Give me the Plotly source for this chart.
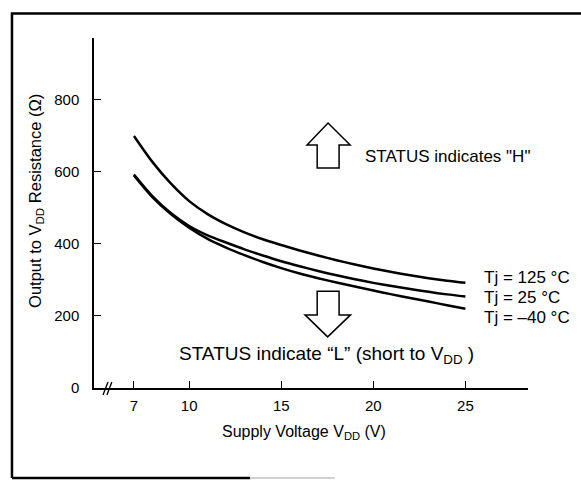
import plotly.graph_objects as go

# ---- data ----
vdd = [7, 8, 9, 10, 11, 12, 13, 14, 15, 16, 17, 18, 19, 20, 21, 22, 23, 24, 25]
r_125 = [700, 628, 568, 519, 483, 455, 432, 413, 397, 382, 368, 355, 343, 332, 322, 313, 305, 298, 292]
r_25 = [593, 533, 486, 450, 424, 404, 385, 368, 352, 338, 325, 313, 302, 292, 283, 275, 267, 260, 254]
r_m40 = [590, 530, 483, 445, 414, 390, 369, 350, 333, 318, 305, 293, 282, 271, 260, 250, 240, 230, 220]
series_labels = ["Tj = 125 °C", "Tj = 25 °C", "Tj = –40 °C"]
x_ticks = [7, 10, 15, 20, 25]
y_ticks = [0, 200, 400, 600, 800]

FONT = "Liberation Sans, Arial, Helvetica, sans-serif"

fig = go.Figure()
for r in (r_125, r_25, r_m40):
    fig.add_trace(go.Scatter(x=vdd, y=r, mode="lines",
                             line=dict(color="black", width=2.5, shape="spline", smoothing=0.8),
                             showlegend=False, hoverinfo="skip"))

# curve labels at the right end of each curve
label_y = [308, 250, 197]
for lab, yy in zip(series_labels, label_y):
    fig.add_annotation(x=25.9, y=yy, text=lab, showarrow=False, xanchor="left", yanchor="middle",
                       font=dict(family=FONT, size=17, color="black"))

# status texts
fig.add_annotation(x=19.45, y=642, text="STATUS indicates \"H\"", showarrow=False,
                   xanchor="left", yanchor="middle", font=dict(family=FONT, size=17, color="black"))
fig.add_annotation(x=9.34, y=92, text="STATUS indicate “L” (short to V<sub>DD</sub> )", showarrow=False,
                   xanchor="left", yanchor="middle", font=dict(family=FONT, size=19, color="black"))

# block arrows (outline)
up_arrow = "M 17.54 736 L 18.74 675 L 18.14 675 L 18.14 611 L 16.95 611 L 16.95 675 L 16.40 675 Z"
down_arrow = "M 17.52 142 L 18.76 203 L 18.14 203 L 18.14 269 L 16.95 269 L 16.95 203 L 16.29 203 Z"
for p in (up_arrow, down_arrow):
    fig.add_shape(type="path", path=p, xref="x", yref="y",
                  line=dict(color="black", width=1.5), fillcolor="white")

# axis break marks
for x0 in (5.32, 5.53):
    fig.add_shape(type="line", xref="x", yref="paper", x0=x0, x1=x0 + 0.27, y0=-0.02, y1=0.017,
                  line=dict(color="black", width=1.3))

# outer frame (paper coordinates relative to plot area): left + top as one open path
fig.add_shape(type="path", xref="paper", yref="paper",
              path="M -0.189 -0.257 L -0.189 1.07 L 1.13 1.07",
              line=dict(color="black", width=2.5))
fig.add_shape(type="line", xref="paper", yref="paper", x0=-0.189, x1=0.36, y0=-0.257, y1=-0.257,
              line=dict(color="black", width=2.5))
fig.add_shape(type="line", xref="paper", yref="paper", x0=0.36, x1=0.555, y0=-0.257, y1=-0.257,
              line=dict(color="#d0d0d0", width=2))

# axis titles
fig.add_annotation(x=0.484, y=-0.128, xref="paper", yref="paper", text="Supply Voltage V<sub>DD</sub> (V)",
                   showarrow=False, xanchor="center", yanchor="middle",
                   font=dict(family=FONT, size=16, color="black"))
fig.add_annotation(x=-0.134, y=0.534, xref="paper", yref="paper",
                   text="Output to V<sub>DD</sub> Resistance (Ω)", textangle=-90,
                   showarrow=False, xanchor="center", yanchor="middle",
                   font=dict(family=FONT, size=16.5, color="black"))

fig.update_xaxes(range=[4.83, 28.4], tickvals=x_ticks, ticktext=[str(v) for v in x_ticks],
                 showgrid=False, zeroline=False, showline=True, linecolor="black", linewidth=1.5,
                 ticks="inside", ticklen=7, tickcolor="black", tickwidth=1.3,
                 tickfont=dict(family=FONT, size=15, color="black"), ticklabelstandoff=3)
fig.update_yaxes(range=[0, 972], tickvals=y_ticks, ticktext=[str(v) for v in y_ticks],
                 showgrid=False, zeroline=False, showline=True, linecolor="black", linewidth=1.5,
                 ticks="inside", ticklen=7, tickcolor="black", tickwidth=1.3,
                 tickfont=dict(family=FONT, size=15, color="black"), ticklabelstandoff=10)

fig.update_layout(width=581, height=481, margin=dict(l=94, r=53, t=38, b=93),
                  plot_bgcolor="white", paper_bgcolor="white", showlegend=False)

fig.write_html("out.html", config={"displayModeBar": False},
               post_script="document.body.style.margin='0';document.body.style.overflow='hidden';")
